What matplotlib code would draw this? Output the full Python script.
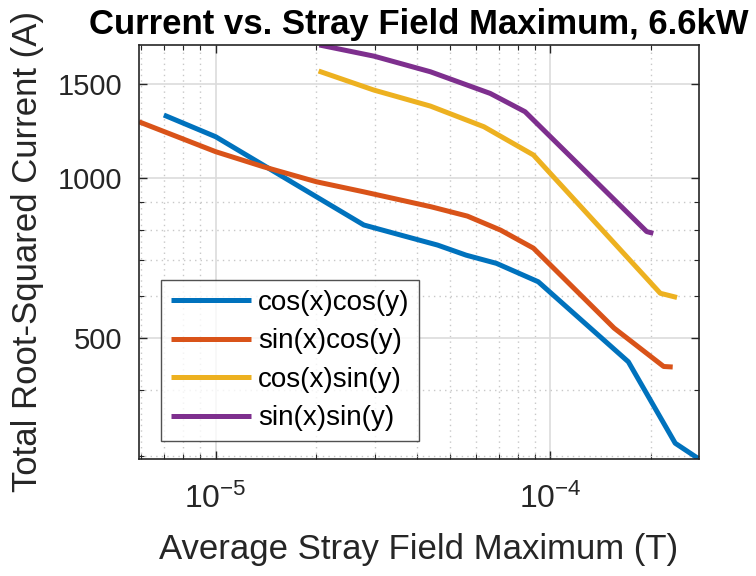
import numpy as np
import matplotlib
matplotlib.use("Agg")
import matplotlib.pyplot as plt
from matplotlib.ticker import FixedLocator, LogLocator, NullFormatter, FixedFormatter

plt.rcParams['font.family'] = ['Liberation Sans', 'DejaVu Sans']
plt.rcParams['mathtext.default'] = 'regular'
plt.rcParams['axes.unicode_minus'] = False

# stray field maximum (T) and total root-squared current (A) per winding pattern
x_cc = [7.0e-6, 1.0e-5, 2.0e-5, 2.77e-5, 3.6e-5, 4.6e-5, 5.6e-5, 6.9e-5, 9.2e-5, 1.71e-4, 2.36e-4, 2.78e-4]
y_cc = [1314, 1196, 922, 816, 780, 748, 716, 691, 638, 451, 317, 296]

x_sc = [5.9e-6, 1.0e-5, 1.39e-5, 2.0e-5, 2.77e-5, 4.4e-5, 5.65e-5, 7.1e-5, 8.9e-5, 1.55e-4, 2.18e-4, 2.32e-4]
y_sc = [1276, 1121, 1050, 984, 942, 883, 848, 798, 738, 522, 442, 441]

x_cs = [2.03e-5, 2.97e-5, 4.38e-5, 6.33e-5, 8.9e-5, 2.13e-4, 2.39e-4]
y_cs = [1590, 1464, 1366, 1249, 1105, 607, 596]

x_ss = [2.04e-5, 2.97e-5, 4.38e-5, 6.61e-5, 8.4e-5, 1.94e-4, 2.03e-4]
y_ss = [1780, 1696, 1585, 1443, 1333, 793, 787]

labels = ['cos(x)cos(y)', 'sin(x)cos(y)', 'cos(x)sin(y)', 'sin(x)sin(y)']
colors = ['#0072BD', '#D95319', '#EDB120', '#7E2F8E']
y_ticks = [500, 1000, 1500]

fig = plt.figure(figsize=(7.56, 5.76), dpi=100)
ax = fig.add_axes([0.1839, 0.2031, 0.7407, 0.7188])

series = [(x_cc, y_cc), (x_sc, y_sc), (x_cs, y_cs), (x_ss, y_ss)]
for (xs, ys), lab, c in zip(series, labels, colors):
    ax.plot(xs, ys, color=c, lw=3.6, label=lab, solid_capstyle='butt')

ax.set_xscale('log')
ax.set_yscale('log')

# axis tight
all_x = np.concatenate([np.array(s[0]) for s in series])
all_y = np.concatenate([np.array(s[1]) for s in series])
ax.set_xlim(all_x.min(), all_x.max())
ax.set_ylim(all_y.min(), all_y.max())

ax.yaxis.set_major_locator(FixedLocator(y_ticks))
ax.yaxis.set_major_formatter(FixedFormatter([str(v) for v in y_ticks]))
ax.yaxis.set_minor_locator(LogLocator(base=10, subs=np.arange(1, 10) * 1.0, numticks=20))
ax.yaxis.set_minor_formatter(NullFormatter())
ax.xaxis.set_minor_locator(LogLocator(base=10, subs=np.arange(2, 10) * 1.0, numticks=20))
ax.xaxis.set_minor_formatter(NullFormatter())

ax.grid(True, which='major', color='#dcdcdc', lw=1.2, ls='-')
ax.grid(True, which='minor', color='#c8c8c8', lw=1.0, ls=(0, (1, 3)))
ax.set_axisbelow(True)

ax.tick_params(which='both', direction='in', top=True, right=True, colors='#262626',
               labelsize=21, labelcolor='#262626')
ax.tick_params(which='major', length=6, width=1.0, pad=12)
ax.tick_params(which='minor', length=3.5, width=0.8)
ax.tick_params(axis='x', which='major', labelsize=23, pad=18)
for sp in ax.spines.values():
    sp.set_color('#262626')
    sp.set_linewidth(1.2)

ax.set_xlabel('Average Stray Field Maximum (T)', fontsize=25, color='#262626', labelpad=13)
ax.set_ylabel('Total Root-Squared Current (A)', fontsize=25, color='#262626', labelpad=10)
ax.set_title('Current vs. Stray Field Maximum, 6.6kW', fontsize=25, fontweight='bold', pad=8)

leg = ax.legend(loc='lower left', bbox_to_anchor=(0.039, 0.0435), fontsize=20, frameon=True,
                fancybox=False, edgecolor='#262626', handlelength=2.9, handletextpad=0.25,
                labelspacing=0.45, borderpad=0.35, borderaxespad=0)
leg.get_frame().set_linewidth(1.0)

fig.savefig('out.png', dpi=100)
